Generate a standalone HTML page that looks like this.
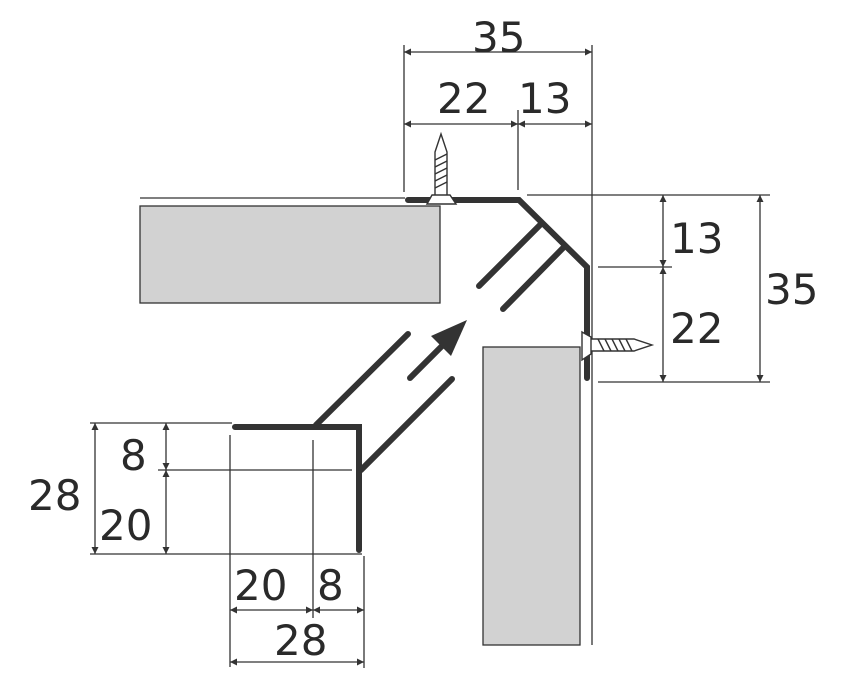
<!DOCTYPE html>
<html><head><meta charset="utf-8"><style>body{margin:0;background:#fff}svg{display:block}text{font-family:"DejaVu Sans","Liberation Sans",sans-serif;font-size:42px;fill:#2a2a2a}</style></head>
<body>
<svg width="848" height="685" viewBox="0 0 848 685" xmlns="http://www.w3.org/2000/svg">
<defs>
<marker id="a" viewBox="0 0 10 10" refX="10" refY="5" markerWidth="13" markerHeight="7" orient="auto-start-reverse" markerUnits="userSpaceOnUse"><path d="M0,0L10,5L0,10z" fill="#333"/></marker>
</defs>
<g stroke="#333" stroke-width="1.3" fill="none">
<rect x="140" y="206" width="300" height="97" fill="#d2d2d2"/>
<rect x="483" y="347" width="97" height="298" fill="#d2d2d2"/>
<line x1="140" y1="198" x2="405" y2="198"/>
<line x1="592" y1="260" x2="592" y2="645"/>
<line x1="404" y1="45" x2="404" y2="192"/>
<line x1="592" y1="45" x2="592" y2="260"/>
<line x1="518" y1="110" x2="518" y2="190"/>
<line x1="404" y1="52" x2="592" y2="52" marker-start="url(#a)" marker-end="url(#a)"/>
<line x1="404" y1="124" x2="518" y2="124" marker-start="url(#a)" marker-end="url(#a)"/>
<line x1="518" y1="124" x2="592" y2="124" marker-start="url(#a)" marker-end="url(#a)"/>
<line x1="527" y1="195" x2="770" y2="195"/>
<line x1="598" y1="267" x2="672" y2="267"/>
<line x1="598" y1="382" x2="770" y2="382"/>
<line x1="663" y1="195" x2="663" y2="267" marker-start="url(#a)" marker-end="url(#a)"/>
<line x1="663" y1="267" x2="663" y2="382" marker-start="url(#a)" marker-end="url(#a)"/>
<line x1="760" y1="195" x2="760" y2="382" marker-start="url(#a)" marker-end="url(#a)"/>
<line x1="90" y1="423" x2="232" y2="423"/>
<line x1="158" y1="470" x2="352" y2="470"/>
<line x1="90" y1="554" x2="362" y2="554"/>
<line x1="95" y1="423" x2="95" y2="554" marker-start="url(#a)" marker-end="url(#a)"/>
<line x1="166" y1="423" x2="166" y2="470" marker-start="url(#a)" marker-end="url(#a)"/>
<line x1="166" y1="470" x2="166" y2="554" marker-start="url(#a)" marker-end="url(#a)"/>
<line x1="230" y1="435" x2="230" y2="667"/>
<line x1="313" y1="440" x2="313" y2="618"/>
<line x1="364" y1="556" x2="364" y2="668"/>
<line x1="230" y1="610" x2="313" y2="610" marker-start="url(#a)" marker-end="url(#a)"/>
<line x1="313" y1="610" x2="364" y2="610" marker-start="url(#a)" marker-end="url(#a)"/>
<line x1="230" y1="662" x2="364" y2="662" marker-start="url(#a)" marker-end="url(#a)"/>
</g>
<g stroke="#333" stroke-width="6" fill="none" stroke-linecap="round" stroke-linejoin="miter">
<polyline points="408,200 519,200 587,267 587,378"/>
<line x1="540" y1="225" x2="479" y2="286"/>
<line x1="563" y1="248" x2="503" y2="309"/>
<polyline points="235,427 359,427 359,550"/>
<line x1="316" y1="425" x2="408" y2="334"/>
<line x1="361" y1="470" x2="452" y2="379"/>
<line x1="410" y1="378" x2="446" y2="342"/>
</g>
<path d="M467,320 L431,336 L451,356 Z" fill="#333"/>
<g stroke="#333" stroke-width="1.4">
<path d="M435,196 L435,152 L441,134 L447,152 L447,196 Z" fill="#fff"/>
<path d="M435,160 L447,154 M435,167 L447,161 M435,174 L447,168 M435,181 L447,175 M435,188 L447,182" />
<path d="M427,204 L432,195 L450,195 L456,204 Z" fill="#fff"/>
<path d="M590,339 L634,339 L652,345 L634,351 L590,351 Z" fill="#fff"/>
<path d="M598,339 L604,351 M605,339 L611,351 M612,339 L618,351 M619,339 L625,351 M626,339 L632,351"/>
<path d="M582,332 L591,337 L591,354 L582,360 Z" fill="#fff"/>
</g>
<text x="472" y="52">35</text>
<text x="437" y="113">22</text>
<text x="518" y="113">13</text>
<text x="670" y="253">13</text>
<text x="670" y="343">22</text>
<text x="765" y="304">35</text>
<text x="28" y="510">28</text>
<text x="120" y="470">8</text>
<text x="99" y="540">20</text>
<text x="234" y="600">20</text>
<text x="317" y="600">8</text>
<text x="274" y="655">28</text>
</svg>
</body></html>
